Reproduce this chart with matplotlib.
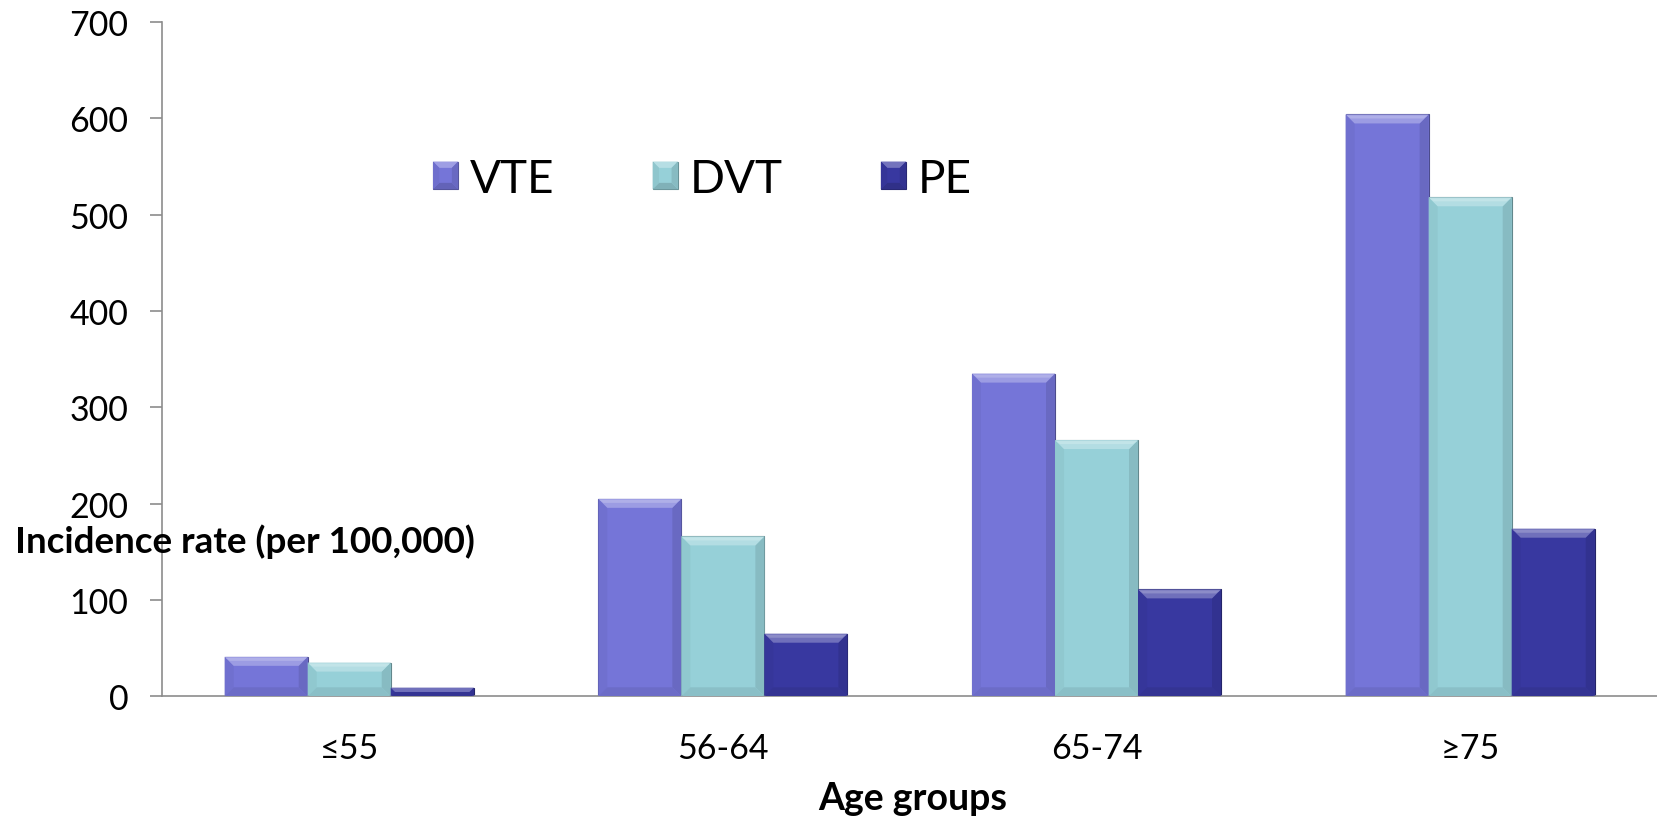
import numpy as np
import matplotlib
matplotlib.use("Agg")
import matplotlib.pyplot as plt
from matplotlib.patches import Polygon, Rectangle
from matplotlib.legend_handler import HandlerPatch
from matplotlib.colors import to_rgb

plt.rcParams['font.family'] = ['Lato', 'DejaVu Sans']

# Incidence rate (per 100,000) by age group
age_groups = ["≤55", "56-64", "65-74", "≥75"]
vte = [41, 205, 335, 604]
dvt = [35, 166, 266, 518]
pe = [9, 65, 111, 174]

series = ["VTE", "DVT", "PE"]
colors = ["#7575D8", "#96D0D8", "#3838A0"]


def shade(c, f):
    # f > 0 lightens toward white, f < 0 darkens toward black
    r = np.array(to_rgb(c))
    if f > 0:
        return tuple(r + (1 - r) * f)
    return tuple(r * (1 + f))


def bevel_polys(x0, y0, x1, y1, d):
    d = min(d, (y1 - y0) / 2, (x1 - x0) / 2)
    top = [(x0, y1), (x1, y1), (x1 - d, y1 - d), (x0 + d, y1 - d)]
    bot = [(x0, y0), (x1, y0), (x1 - d, y0 + d), (x0 + d, y0 + d)]
    left = [(x0, y0), (x0 + d, y0 + d), (x0 + d, y1 - d), (x0, y1)]
    right = [(x1, y0), (x1 - d, y0 + d), (x1 - d, y1 - d), (x1, y1)]
    return top, bot, left, right


def add_bevel(ax, bar, color, depth=9):
    # work in pixels so the bevel is square on screen
    (x0, y0), (x1, y1) = ax.transData.transform(
        [(bar.get_x(), bar.get_y()), (bar.get_x() + bar.get_width(), bar.get_y() + bar.get_height())])
    inv = ax.transData.inverted()
    top, bot, left, right = bevel_polys(x0, y0, x1, y1, depth)
    for pts, f in [(left, -0.04), (right, -0.10), (bot, -0.08), (top, 0.28)]:
        ax.add_patch(Polygon(inv.transform(pts), closed=True, facecolor=shade(color, f),
                             edgecolor="none", zorder=3))
    # light strip at the very top of the bevel
    t2 = [(x0 + 1, y1 - 1), (x1 - 1, y1 - 1), (x1 - 1 - depth * 0.45, y1 - depth * 0.45),
          (x0 + 1 + depth * 0.45, y1 - depth * 0.45)]
    if (y1 - y0) > depth:
        ax.add_patch(Polygon(inv.transform(t2), closed=True, facecolor=shade(color, 0.42),
                             edgecolor="none", zorder=3))


class BevelHandler(HandlerPatch):
    def create_artists(self, legend, orig_handle, xdescent, ydescent, width, height, fontsize, trans):
        c = orig_handle.get_facecolor()
        x0, y0, x1, y1 = -xdescent, -ydescent, -xdescent + width, -ydescent + height
        d = width * 0.25
        arts = [Rectangle((x0, y0), width, height, facecolor=c, edgecolor=shade(c, -0.3),
                          linewidth=0.8, transform=trans)]
        top, bot, left, right = bevel_polys(x0, y0, x1, y1, d)
        for pts, f in [(top, 0.30), (bot, -0.15), (left, -0.05), (right, -0.1)]:
            arts.append(Polygon(pts, closed=True, facecolor=shade(c, f), edgecolor="none",
                                transform=trans))
        return arts


fig = plt.figure(figsize=(16.57, 8.20), dpi=100)
ax = fig.add_axes([0.098, 0.1496, 0.902, 0.8224])

x = np.arange(len(age_groups))
width = 0.2222
values = [vte, dvt, pe]
handles = []
for i, (name, vals, col) in enumerate(zip(series, values, colors)):
    bars = ax.bar(x + (i - 1) * width, vals, width, color=col, edgecolor=shade(col, -0.35),
                  linewidth=0.8, zorder=2, label=name)
    handles.append(bars[0])

ax.set_xlim(-0.5, 3.5)
ax.set_ylim(0, 700)
ax.set_yticks(range(0, 701, 100))
ax.set_xticks(x)
ax.set_xticklabels(age_groups)

for bars_c, col in zip(ax.containers, colors):
    for b in bars_c:
        add_bevel(ax, b, col)

for s in ["top", "right"]:
    ax.spines[s].set_visible(False)
for s in ["left", "bottom"]:
    ax.spines[s].set_color("#8c8c8c")
    ax.spines[s].set_linewidth(1.2)

ax.tick_params(axis="y", length=8.4, width=1.2, color="#8c8c8c", pad=16, labelsize=24.5)
ax.tick_params(axis="x", length=0, pad=26, labelsize=24.5)

fig.text(0.148, 0.340, "Incidence rate (per 100,000)", ha="center", va="center",
         fontsize=26.5, fontweight="bold")
fig.text(0.551, 0.026, "Age groups", ha="center", va="center", fontsize=27, fontweight="bold")

leg = ax.legend(handles=handles, labels=series, ncol=3, loc="center left",
                bbox_to_anchor=(0.2613, 0.781), bbox_transform=fig.transFigure,
                frameon=False, fontsize=33, handlelength=0.55, handleheight=0.55,
                handletextpad=0.25, columnspacing=2.15, borderpad=0, borderaxespad=0,
                handler_map={Rectangle: BevelHandler()})

fig.savefig("out.png", dpi=100)
